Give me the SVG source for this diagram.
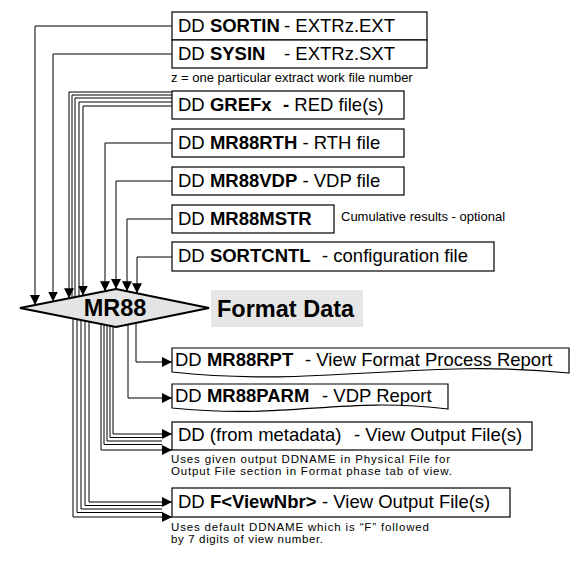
<svg xmlns="http://www.w3.org/2000/svg" width="571" height="587" viewBox="0 0 571 587">
<style>
.box{fill:#fff;stroke:#000;stroke-width:1.2}
.t{font-family:"Liberation Sans",Arial,sans-serif;font-size:18.5px;fill:#000}
.b{font-weight:bold}
.big{font-size:23.5px;font-weight:bold}
.s{font-family:"Liberation Sans",Arial,sans-serif;font-size:13px;fill:#000}
.cap{font-family:"Liberation Sans",Arial,sans-serif;font-size:11.5px;fill:#000}
.c{fill:none;stroke:#000;stroke-width:1}
.ah{fill:#000}
</style>
<defs>
<marker id="arr" viewBox="0 0 10 10" refX="10" refY="5" markerWidth="10" markerHeight="10" markerUnits="userSpaceOnUse" orient="auto">
<path d="M0,0 L10,5 L0,10 z" class="ah"/>
</marker>
</defs>
<rect x="0" y="0" width="571" height="587" fill="#fff"/>

<g id="mr88">
<polygon points="20,308 116,289 209,308 116,327" fill="#e4e4e4" stroke="#000" stroke-width="2.2"/>
<text x="115" y="316" class="t big" text-anchor="middle">MR88</text>
</g>
<g id="format-data">
<rect x="211" y="290" width="152" height="37" fill="#e6e6e6"/>
<text x="217" y="317" class="t big">Format Data</text>
</g>

<g id="sortin">
<rect x="172" y="12" width="255" height="28" class="box"/>
<text x="178" y="32" class="t">DD <tspan class="b">SORTIN</tspan><tspan x="284">- EXTRz.EXT</tspan></text>
</g>
<g id="sysin">
<rect x="172" y="40" width="255" height="28" class="box"/>
<text x="178" y="60" class="t">DD <tspan class="b">SYSIN</tspan><tspan x="284">- EXTRz.SXT</tspan></text>
</g>
<g id="note-z">
<text x="171" y="82" class="s">z = one particular extract work file number</text>
</g>
<g id="grefx">
<rect x="172" y="91" width="232" height="28" class="box"/>
<text x="178" y="111" class="t">DD <tspan class="b">GREFx</tspan><tspan x="283" class="b">-</tspan> RED file(s)</text>
</g>
<g id="mr88rth">
<rect x="172" y="129" width="232" height="28" class="box"/>
<text x="178" y="149" class="t">DD <tspan class="b">MR88RTH</tspan> - RTH file</text>
</g>
<g id="mr88vdp">
<rect x="172" y="167" width="232" height="28" class="box"/>
<text x="178" y="187" class="t">DD <tspan class="b">MR88VDP</tspan> - VDP file</text>
</g>
<g id="mr88mstr">
<rect x="172" y="205" width="162" height="28" class="box"/>
<text x="178" y="225" class="t">DD <tspan class="b">MR88MSTR</tspan></text>
<text x="341" y="221" class="s">Cumulative results - optional</text>
</g>
<g id="sortcntl">
<rect x="172" y="242" width="322" height="29" class="box"/>
<text x="178" y="262" class="t">DD <tspan class="b">SORTCNTL</tspan><tspan x="322">- configuration file</tspan></text>
</g>

<g id="mr88rpt">
<path d="M172,348 H569 V373 C420,358 320,388 172,372 Z" class="box"/>
<text x="175" y="366" class="t">DD <tspan class="b">MR88RPT</tspan><tspan x="305">- View Format Process Report</tspan></text>
</g>
<g id="mr88parm">
<path d="M172,384 H448 V409 C340,396 290,420 172,408 Z" class="box"/>
<text x="175" y="402" class="t">DD <tspan class="b">MR88PARM</tspan><tspan x="322">- VDP Report</tspan></text>
</g>
<g id="metadata">
<rect x="172" y="422" width="360" height="28" class="box"/>
<text x="178" y="441" class="t">DD (from metadata)<tspan x="354">- View Output File(s)</tspan></text>
<text x="171" y="463" class="cap" textLength="279" lengthAdjust="spacing">Uses given output DDNAME in Physical File for</text>
<text x="171" y="475" class="cap" textLength="281" lengthAdjust="spacing">Output File section in Format phase tab of view.</text>
</g>
<g id="fviewnbr">
<rect x="172" y="488" width="338" height="29" class="box"/>
<text x="178" y="508" class="t">DD <tspan class="b">F&lt;ViewNbr&gt;</tspan><tspan x="322">- View Output File(s)</tspan></text>
<text x="171" y="531" class="cap" textLength="258" lengthAdjust="spacing">Uses default DDNAME which is “F” followed</text>
<text x="171" y="543" class="cap" textLength="152" lengthAdjust="spacing">by 7 digits of view number.</text>
</g>

<g id="connectors">
<path d="M172,26 H35 V305" class="c" marker-end="url(#arr)"/>
<path d="M172,54 H53 V301.5" class="c" marker-end="url(#arr)"/>
<path d="M172,92 H69 V298.3" class="c" marker-end="url(#arr)"/>
<path d="M172,95 H72 V297.7" class="c"/>
<path d="M172,98 H75 V297.1" class="c"/>
<path d="M172,102 H79 V296.3" class="c"/>
<path d="M172,106 H83 V295.5" class="c" marker-end="url(#arr)"/>
<path d="M172,143 H105 V291.2" class="c" marker-end="url(#arr)"/>
<path d="M172,181 H116 V289" class="c" marker-end="url(#arr)"/>
<path d="M172,219 H127 V291.2" class="c" marker-end="url(#arr)"/>
<path d="M172,257 H137 V293.3" class="c" marker-end="url(#arr)"/>

<path d="M136,322.9 V362 H172" class="c" marker-end="url(#arr)"/>
<path d="M128,324.5 V398 H172" class="c" marker-end="url(#arr)"/>

<path d="M113,326.4 V434 H172" class="c" marker-end="url(#arr)"/>
<path d="M110,325.8 V437.5 H162" class="c"/>
<path d="M107,325.2 V441 H162" class="c"/>
<path d="M104,324.6 V444.5 H162" class="c"/>
<path d="M101,324 V450 H172" class="c" marker-end="url(#arr)"/>

<path d="M89,321.7 V502 H172" class="c" marker-end="url(#arr)"/>
<path d="M85,320.9 V505.5 H162" class="c"/>
<path d="M81,320.1 V509 H162" class="c"/>
<path d="M77,319.3 V512.5 H162" class="c"/>
<path d="M73,318.5 V517 H172" class="c" marker-end="url(#arr)"/>
</g>
</svg>
